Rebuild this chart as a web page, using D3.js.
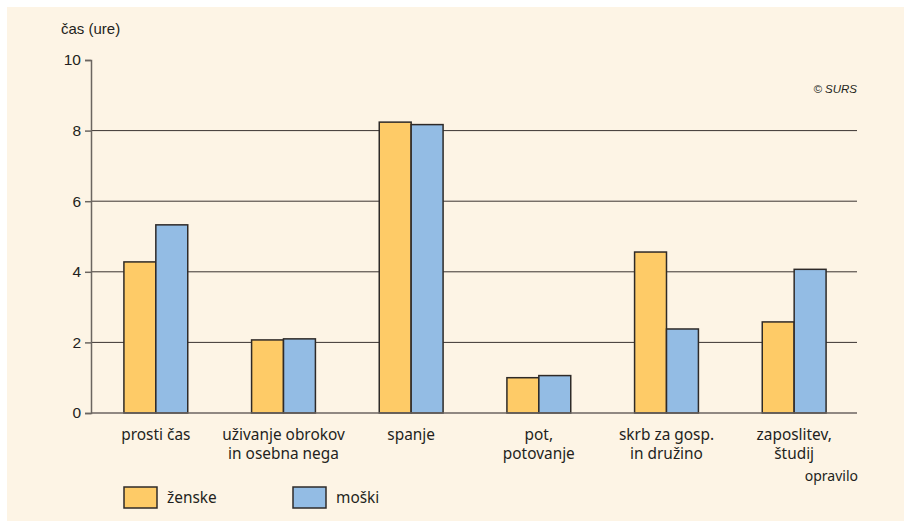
<!DOCTYPE html>
<html>
<head>
<meta charset="utf-8">
<script src="https://cdn.jsdelivr.net/npm/d3@7"></script>
<style>
  body { margin: 0; background: #ffffff; }
  svg { display: block; }
</style>
</head>
<body>
<div id="chart"></div>
<script>
width = 904
height = 524

let categories = [
    ["prosti čas"],
    ["uživanje obrokov", "in osebna nega"],
    ["spanje"],
    ["pot,", "potovanje"],
    ["skrb za gosp.", "in družino"],
    ["zaposlitev,", "študij"]
]
let seriesNames = ["ženske", "moški"]
let zenske = [4.28, 2.07, 8.24, 1.0, 4.56, 2.58]
let moski = [5.33, 2.1, 8.17, 1.06, 2.38, 4.07]
let yTicks = [0, 2, 4, 6, 8, 10]
let colors = ["#fecb67", "#93bce4"]

let svg = d3.select("#chart")
    .append("svg")
    .attr("width", width)
    .attr("height", height)

svg.append("rect")
    .attr("x", 7)
    .attr("y", 7)
    .attr("width", width - 7)
    .attr("height", 514)
    .attr("fill", "#fdf4e5")

let x0 = d3.scaleBand()
    .domain(d3.range(categories.length))
    .range([92, 858])
    .paddingInner(0.5)
    .paddingOuter(0.25)

let x1 = d3.scaleBand()
    .domain([0, 1])
    .range([0, x0.bandwidth()])

let y = d3.scaleLinear()
    .domain([0, 10])
    .range([413, 60])

// gridlines
svg.append("g")
    .selectAll("line")
    .data(yTicks.filter(t => t > 0 && t < 10))
    .join("line")
    .attr("x1", 91)
    .attr("x2", 857)
    .attr("y1", d => y(d))
    .attr("y2", d => y(d))
    .attr("stroke", "#3a3330")
    .attr("stroke-width", 1)

// bars
let groups = svg.append("g")
    .selectAll("g")
    .data(categories.map((c, i) => [zenske[i], moski[i]]))
    .join("g")
    .attr("transform", (d, i) => "translate(" + x0(i) + ",0)")

groups.selectAll("rect")
    .data(d => d)
    .join("rect")
    .attr("x", (d, j) => x1(j))
    .attr("y", d => y(d))
    .attr("width", x1.bandwidth())
    .attr("height", d => y(0) - y(d))
    .attr("fill", (d, j) => colors[j])
    .attr("stroke", "#2e2a28")
    .attr("stroke-width", 1.5)

// baseline
svg.append("line")
    .attr("x1", 91).attr("x2", 857)
    .attr("y1", y(0)).attr("y2", y(0))
    .attr("stroke", "#6b6560")
    .attr("stroke-width", 1.5)

// y axis
let yAxis = svg.append("g")
    .attr("transform", "translate(91,0)")
    .call(d3.axisLeft(y).tickValues(yTicks).tickSize(6).tickPadding(4))

yAxis.select(".domain").attr("stroke", "#6b6560").attr("stroke-width", 1.5)
yAxis.selectAll(".tick line").attr("stroke", "#6b6560").attr("stroke-width", 1.5)
yAxis.selectAll(".tick text")
    .attr("fill", "#231f20")
    .style("font-family", "Liberation Sans, Arial, sans-serif")
    .style("font-size", "15.5px")

svg.append("text")
    .attr("x", 61)
    .attr("y", 34)
    .attr("fill", "#231f20")
    .style("font-family", "Liberation Sans, Arial, sans-serif")
    .style("font-size", "15px")
    .text("čas (ure)")

svg.append("text")
    .attr("x", 857)
    .attr("y", 93)
    .attr("text-anchor", "end")
    .attr("fill", "#231f20")
    .style("font-family", "Liberation Sans, Arial, sans-serif")
    .style("font-size", "11.5px")
    .style("font-style", "italic")
    .text("© SURS")

// category labels
let catLabels = svg.append("g")
    .selectAll("text")
    .data(categories)
    .join("text")
    .attr("x", (d, i) => x0(i) + x0.bandwidth() / 2)
    .attr("y", 440)
    .attr("text-anchor", "middle")
    .attr("fill", "#231f20")
    .style("font-family", "Noto Sans, Open Sans, sans-serif")
    .style("font-size", "15.4px")

catLabels.selectAll("tspan")
    .data(d => d)
    .join("tspan")
    .attr("x", function () { return this.parentNode.getAttribute("x") })
    .attr("dy", (d, k) => k == 0 ? 0 : 18.5)
    .text(d => d)

svg.append("text")
    .attr("x", 858)
    .attr("y", 481)
    .attr("text-anchor", "end")
    .attr("fill", "#231f20")
    .style("font-family", "Noto Sans, Open Sans, sans-serif")
    .style("font-size", "14px")
    .text("opravilo")

// legend
let legendX = [124, 293]
seriesNames.forEach((name, i) => {
    let row = svg.append("g")
        .attr("transform", "translate(" + legendX[i] + ",487)")
    row.append("rect")
        .attr("width", 33)
        .attr("height", 21)
        .attr("fill", colors[i])
        .attr("stroke", "#2e2a28")
        .attr("stroke-width", 1.5)
    row.append("text")
        .attr("x", 43)
        .attr("y", 16)
        .attr("fill", "#231f20")
        .style("font-family", "Noto Sans, Open Sans, sans-serif")
        .style("font-size", "15.4px")
        .text(name)
})
</script>
</body>
</html>
